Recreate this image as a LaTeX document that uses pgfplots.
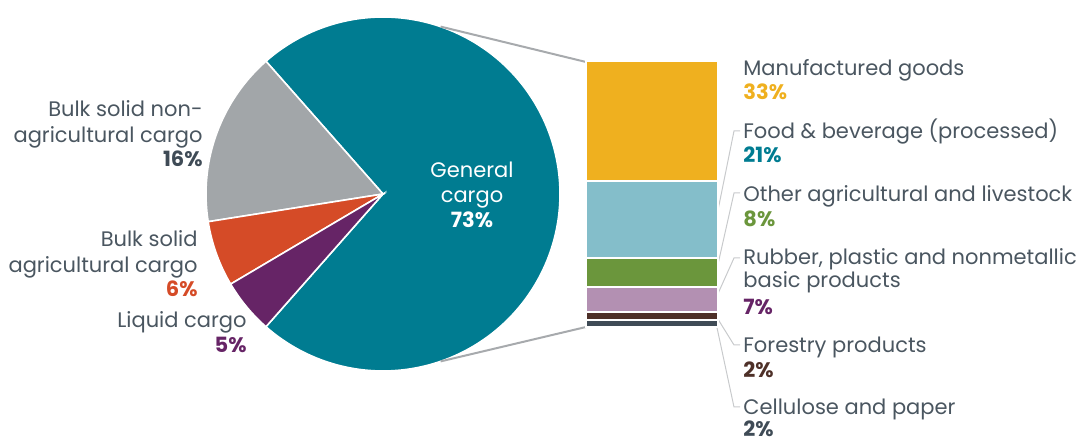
\documentclass[border=0pt]{standalone}
\usepackage{pgfplots}
\pgfplotsset{compat=1.18}
\usepackage{fontspec}
\setmainfont{Poppins}

\definecolor{cTeal}{HTML}{007C91}
\definecolor{cGray}{HTML}{A2A6A9}
\definecolor{cOrange}{HTML}{D54B27}
\definecolor{cPurple}{HTML}{662466}
\definecolor{cYellow}{HTML}{EFB01F}
\definecolor{cLTeal}{HTML}{84BECA}
\definecolor{cGreen}{HTML}{6B963C}
\definecolor{cMauve}{HTML}{B390B2}
\definecolor{cBrown}{HTML}{4E3028}
\definecolor{cSlate}{HTML}{3F4B56}
\definecolor{cText}{HTML}{4A5660}
\definecolor{cLine}{HTML}{A7AAAD}
\definecolor{cLead}{HTML}{C8CACC}

\tikzset{lab/.style={font=\fontsize{10.5}{12.5}\selectfont,text=cText,inner sep=0pt}}

\begin{document}
\begin{tikzpicture}
\pgfplotsset{frame/.style={width=541pt,height=221pt,scale only axis,hide axis,clip=false,
  xmin=0,xmax=1082}}
% shares of all cargo (%)
\def\pGen{73}\def\pNon{16}\def\pAgr{6}\def\pLiq{5}
\pgfmathsetmacro\aA{-\pGen*1.8}
\pgfmathsetmacro\aB{\pGen*1.8}
\pgfmathsetmacro\aC{\aB+\pNon*3.6}
\pgfmathsetmacro\aD{\aC+\pAgr*3.6}
\pgfmathsetmacro\aE{\aD+\pLiq*3.6}
\begin{axis}[frame,ymin=0,ymax=442,y dir=reverse]
  \addplot[fill=cTeal,draw=white,line width=0.8pt,domain=\aA:\aB,samples=150,variable=\t]
    ({383+177*cos(\t)},{194-177*sin(\t)}) -- (axis cs:383,194) -- cycle;
  \addplot[fill=cGray,draw=white,line width=0.8pt,domain=\aB:\aC,samples=40,variable=\t]
    ({383+177*cos(\t)},{194-177*sin(\t)}) -- (axis cs:383,194) -- cycle;
  \addplot[fill=cOrange,draw=white,line width=0.8pt,domain=\aC:\aD,samples=20,variable=\t]
    ({383+177*cos(\t)},{194-177*sin(\t)}) -- (axis cs:383,194) -- cycle;
  \addplot[fill=cPurple,draw=white,line width=0.8pt,domain=\aD:\aE,samples=20,variable=\t]
    ({383+177*cos(\t)},{194-177*sin(\t)}) -- (axis cs:383,194) -- cycle;
  % connectors pie -> bar
  \addplot[cLine,line width=1pt] coordinates {(440.6,26.6) (586,62)};
  \addplot[cLine,line width=1pt] coordinates {(440.6,361.4) (586,327)};
  % leader lines
  \addplot[cLead,line width=0.5pt] coordinates {(716,220) (734,131) (740,131)};
  \addplot[cLead,line width=0.5pt] coordinates {(716,273) (734,193) (740,193)};
  \addplot[cLead,line width=0.5pt] coordinates {(716,298) (734,258) (740,258)};
  \addplot[cLead,line width=0.5pt] coordinates {(716,316) (734,345) (740,345)};
  \addplot[cLead,line width=0.5pt] coordinates {(716,323) (734,407) (740,407)};
  % pie labels
  \node[lab,anchor=base,text=white] at (axis cs:472,178) {General};
  \node[lab,anchor=base,text=white] at (axis cs:472,203) {cargo};
  \node[lab,anchor=base,text=white] at (axis cs:472,228) {\bfseries 73\%};
  \node[lab,anchor=base east] at (axis cs:203,117) {Bulk solid non-};
  \node[lab,anchor=base east] at (axis cs:203,143) {agricultural cargo};
  \node[lab,anchor=base east,text=cSlate] at (axis cs:203,167) {\bfseries 16\%};
  \node[lab,anchor=base east] at (axis cs:198,247) {Bulk solid};
  \node[lab,anchor=base east] at (axis cs:198,273) {agricultural cargo};
  \node[lab,anchor=base east,text=cOrange] at (axis cs:198,297) {\bfseries 6\%};
  \node[lab,anchor=base east] at (axis cs:247,328) {Liquid cargo};
  \node[lab,anchor=base east,text=cPurple] at (axis cs:247,353) {\bfseries 5\%};
  % bar labels
  \node[lab,anchor=base west] at (axis cs:743,76) {Manufactured goods};
  \node[lab,anchor=base west,text=cYellow] at (axis cs:743,100) {\bfseries 33\%};
  \node[lab,anchor=base west] at (axis cs:743,139) {Food \& beverage (processed)};
  \node[lab,anchor=base west,text=cTeal] at (axis cs:743,163) {\bfseries 21\%};
  \node[lab,anchor=base west] at (axis cs:743,202) {Other agricultural and livestock};
  \node[lab,anchor=base west,text=cGreen] at (axis cs:743,227) {\bfseries 8\%};
  \node[lab,anchor=base west] at (axis cs:743,265) {Rubber, plastic and nonmetallic};
  \node[lab,anchor=base west] at (axis cs:743,288) {basic products};
  \node[lab,anchor=base west,text=cPurple] at (axis cs:743,315) {\bfseries 7\%};
  \node[lab,anchor=base west] at (axis cs:743,353) {Forestry products};
  \node[lab,anchor=base west,text=cBrown] at (axis cs:743,378) {\bfseries 2\%};
  \node[lab,anchor=base west] at (axis cs:743,415) {Cellulose and paper};
  \node[lab,anchor=base west,text=cSlate] at (axis cs:743,437) {\bfseries 2\%};
\end{axis}
% breakdown of general cargo (%), stacked bottom-up
\begin{axis}[frame,ymin=-31.56,ymax=89.74,ybar stacked,bar width=132,
  every axis plot/.append style={draw=white,line width=1pt}]
  \addplot[fill=cSlate] coordinates {(652,2)};
  \addplot[fill=cBrown] coordinates {(652,2)};
  \addplot[fill=cMauve] coordinates {(652,7)};
  \addplot[fill=cGreen] coordinates {(652,8)};
  \addplot[fill=cLTeal] coordinates {(652,21)};
  \addplot[fill=cYellow] coordinates {(652,33)};
\end{axis}
\pgfresetboundingbox
\useasboundingbox (0,0) rectangle (541pt,221pt);
\end{tikzpicture}
\end{document}
